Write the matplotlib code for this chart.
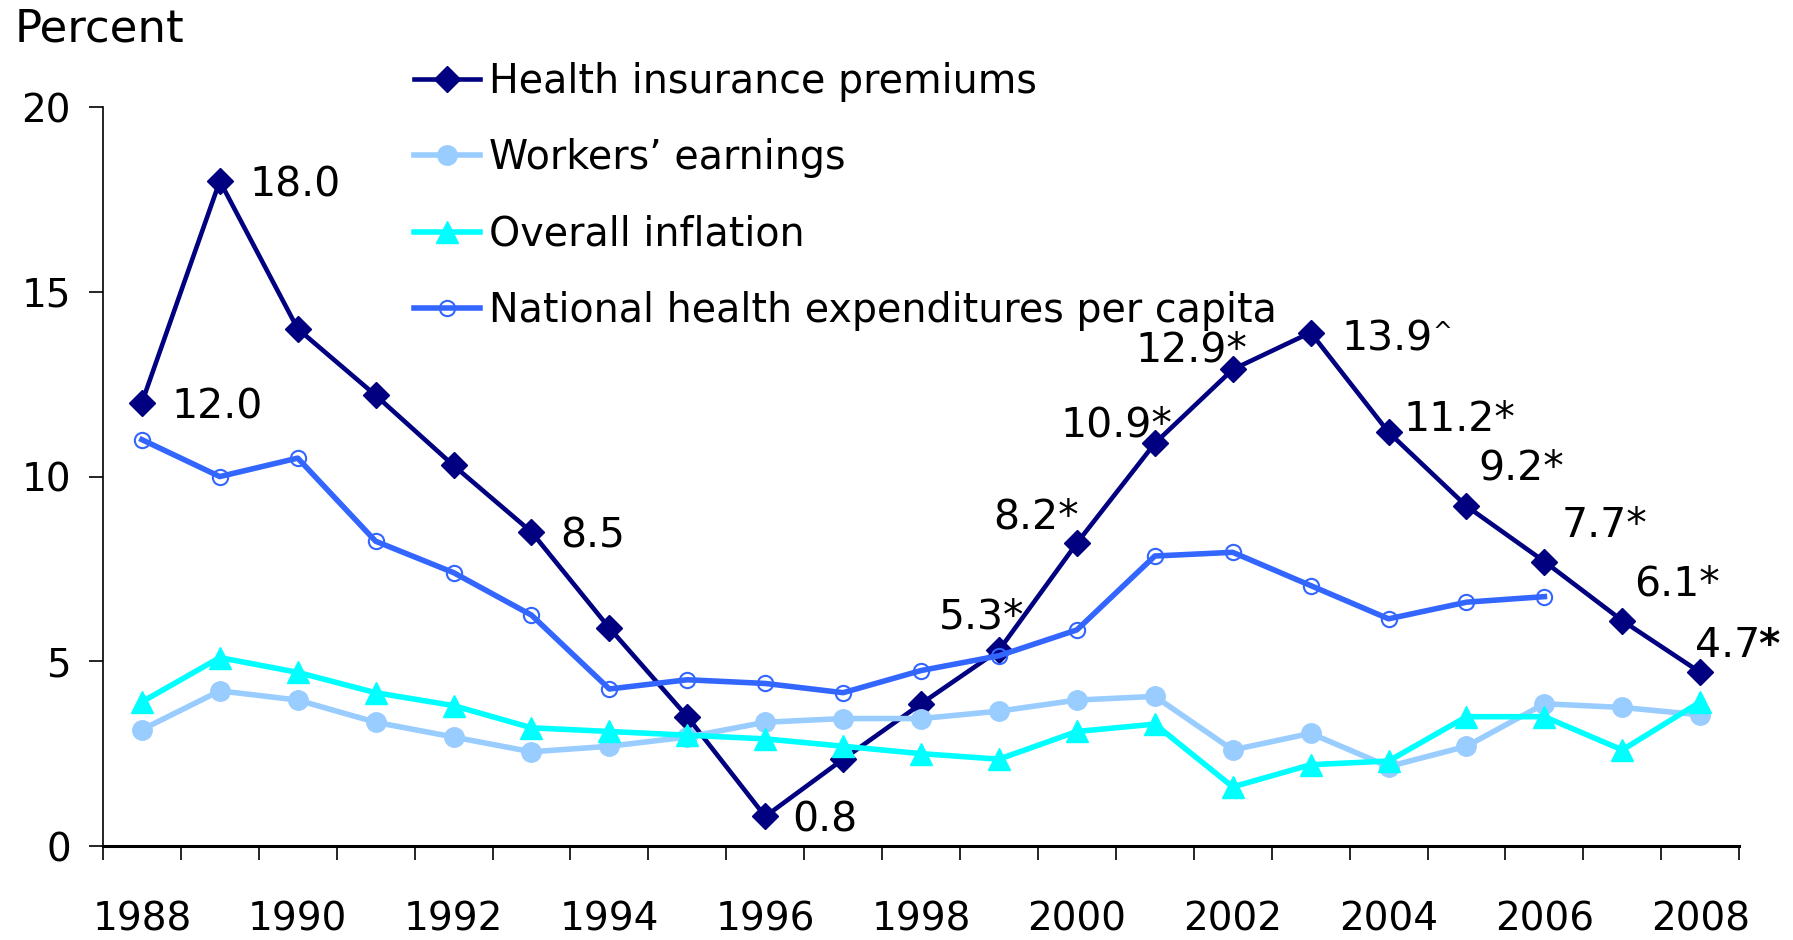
import matplotlib
matplotlib.use("Agg")
import matplotlib.pyplot as plt
from matplotlib.ticker import MultipleLocator

plt.rcParams["font.family"] = "DejaVu Sans"

# data
years = list(range(1988, 2009))
premiums = [12.0, 18.0, 14.0, 12.2, 10.3, 8.5, 5.9, 3.5, 0.8, 2.35, 3.85,
            5.3, 8.2, 10.9, 12.9, 13.9, 11.2, 9.2, 7.7, 6.1, 4.7]
earnings = [3.15, 4.2, 3.95, 3.35, 2.95, 2.55, 2.7, 2.95, 3.35, 3.45, 3.45,
            3.65, 3.95, 4.05, 2.6, 3.05, 2.15, 2.7, 3.85, 3.75, 3.55]
inflation = [3.9, 5.1, 4.7, 4.15, 3.8, 3.2, 3.1, 3.0, 2.9, 2.7, 2.5,
             2.35, 3.1, 3.3, 1.6, 2.2, 2.3, 3.5, 3.5, 2.6, 3.9]
nhe_years = list(range(1988, 2007))
nhe = [11.0, 10.0, 10.5, 8.25, 7.4, 6.25, 4.25, 4.5, 4.4, 4.15, 4.75,
       5.15, 5.85, 7.85, 7.95, 7.05, 6.15, 6.6, 6.75]

series_names = ["Health insurance premiums", "Workers\u2019 earnings",
                "Overall inflation", "National health expenditures per capita"]

# premium labels: (year, text)
premium_labels = [(1988, "12.0"), (1989, "18.0"), (1993, "8.5"), (1996, "0.8"),
                  (1999, "5.3*"), (2000, "8.2*"), (2001, "10.9*"), (2002, "12.9*"),
                  (2003, "13.9"), (2004, "11.2*"), (2005, "9.2*"), (2006, "7.7*"),
                  (2007, "6.1*"), (2008, "4.7")]
# label placement (pixels) and alignment
label_pos = {
    1988: (30, 0, "left"), 1989: (30, 0, "left"), 1993: (29, 0, "left"),
    1996: (27, 0, "left"), 1999: (-17, 37, "center"), 2000: (-41, 30, "center"),
    2001: (-38, 22, "center"), 2002: (-41, 23, "center"), 2003: (31, -2, "left"),
    2004: (15, 17, "left"), 2005: (12, 42, "left"), 2006: (17, 40, "left"),
    2007: (12, 41, "left"), 2008: (-5, 31, "left"),
}

FS = 29.5

fig = plt.figure(figsize=(17.93, 9.40), dpi=100)
ax = fig.add_axes([0.0574, 0.100, 0.9126, 0.786])

navy = "#000080"
light = "#99CCFF"
cyan = "#00FFFF"
blue = "#3366FF"

ax.plot(years, premiums, color=navy, lw=3.3, marker="D", ms=13,
        mfc=navy, mec=navy, label=series_names[0])
ax.plot(years, earnings, color=light, lw=4, marker="o", ms=14,
        mfc=light, mec=light, label=series_names[1])
ax.plot(years, inflation, color=cyan, lw=4, marker="^", ms=16,
        mfc=cyan, mec=cyan, label=series_names[2])
ax.plot(nhe_years, nhe, color=blue, lw=4, marker="o", ms=11,
        mfc="none", mec=blue, mew=1.5, label=series_names[3])

for yr, txt in premium_labels:
    dx, dy, ha = label_pos[yr]
    val = premiums[years.index(yr)]
    ax.annotate(txt, (yr, val), xytext=(dx, dy), textcoords="offset pixels",
                ha=ha, va="center_baseline", fontsize=FS, color="black")
    if yr == 2003:
        ax.annotate("^", (yr, val), xytext=(dx + 91, dy + 5),
                    textcoords="offset pixels", ha="left",
                    va="center_baseline", fontsize=17)
    if yr == 2008:
        ax.annotate("*", (yr, val), xytext=(dx + 63, dy),
                    textcoords="offset pixels", ha="left",
                    va="center_baseline", fontsize=FS, fontweight="bold")

ax.set_xlim(1987.5, 2008.5)
ax.set_ylim(0, 20)
ax.set_yticks([0, 5, 10, 15, 20])
ax.set_xticks(years[::2])
ax.xaxis.set_minor_locator(MultipleLocator(1, offset=0.5))
ax.tick_params(axis="x", which="major", length=0, pad=39, labelsize=28)
ax.tick_params(axis="x", which="minor", length=10, width=1.2, direction="out")
ax.tick_params(axis="y", length=10, width=1.2, pad=13, labelsize=28,
               direction="out")

for s in ["top", "right"]:
    ax.spines[s].set_visible(False)
ax.spines["left"].set_linewidth(1.2)
ax.spines["bottom"].set_linewidth(2.2)

fig.text(0.008, 1 - 25 / 940, "Percent", fontsize=32.5, ha="left",
         va="center_baseline")

ax.legend(loc="upper left", bbox_to_anchor=(0.231, 0.9345),
          bbox_transform=fig.transFigure, frameon=False, fontsize=28.5,
          handlelength=1.67, handletextpad=0.23, labelspacing=0.92,
          borderpad=0, borderaxespad=0)

fig.savefig("out.png", dpi=100)
